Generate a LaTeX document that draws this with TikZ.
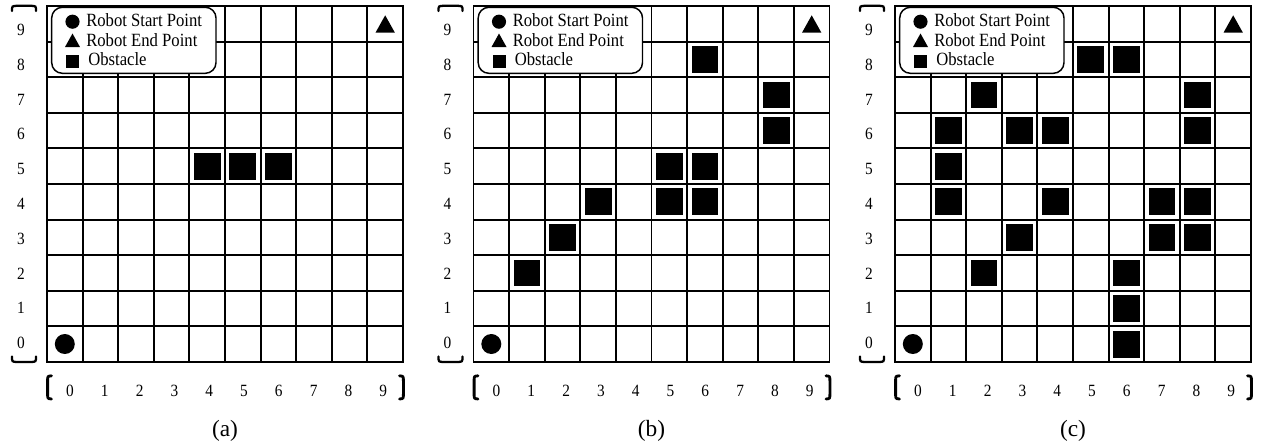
\documentclass[tikz,border=0pt]{standalone}
\usepackage{fontspec}
\setmainfont{Liberation Serif}
\tikzset{
  gridline/.style={line width=1.4pt, line cap=rect},
  obst/.style={fill=black},
  legendbox/.style={draw=black, line width=1.1pt, fill=white, rounded corners=8pt},
  axisnum/.style={inner sep=0pt, font=\fontsize{11.5}{12}\selectfont},
  legtext/.style={inner sep=0pt, anchor=base west, font=\fontsize{12.5}{13}\selectfont},
  captext/.style={inner sep=0pt, font=\fontsize{17.5}{19}\selectfont},
  brace/.style={line width=1.7pt, line cap=round},
  paren/.style={line width=2.1pt, line cap=round}
}
\newcommand\tallbox[1]{\scalebox{1}[1.12]{#1}}
\newcommand\gridpanel[4]{%
  \begin{scope}[shift={(#1,0)}]
    % grid lines
    \foreach \i in {0,...,10} {
      \draw[gridline] (\i*35.6,6) -- (\i*35.6,362);
      \draw[gridline] (0,6+\i*35.6) -- (356,6+\i*35.6);
    }
    % obstacles
    \foreach \c/\r in {#2} {
      \fill[obst] (\c*35.6+4.4,362-\r*35.6-4.4) rectangle (\c*35.6+31.2,362-\r*35.6-31.2);
    }
    % start and end points
    \fill (17.8,344) circle[radius=7.5pt];
    \fill (328.6,32.5) -- (347.8,32.5) -- (338.2,15.3) -- cycle;
    % legend
    \draw[legendbox] (4.7,7.3) rectangle (169,73.3);
    \fill (25.5,21.7) circle[radius=5.3pt];
    \fill (18,47) -- (33,47) -- (25.5,33.5) -- cycle;
    \fill (19,55) rectangle (32,68);
    \node[legtext] (#4s) at (39,26.7) {\tallbox{Robot Start Point}};
    \node[legtext] (#4e) at (39,46.7) {\tallbox{Robot End Point}};
    \node[legtext] (#4o) at (41,65.7) {\tallbox{Obstacle}};
    % axis labels
    \foreach \j in {0,...,9} {
      \node[axisnum] (#4y\j) at (-26,343-\j*34.8) {\tallbox{\j}};
      \node[axisnum] (#4x\j) at (23+\j*34.8,390.5) {\tallbox{\j}};
    }
    % braces
    \draw[brace] (-35,11) .. controls (-35,6) .. (-30,5.8) -- (-16,5.8) .. controls (-11,6) .. (-11,11);
    \draw[brace] (-35,356.5) .. controls (-35,361.8) .. (-30,362) -- (-16,362) .. controls (-11,361.8) .. (-11,356.5);
    \draw[paren] (4.5,375.8) .. controls (0.6,376.2) .. (0.6,381) -- (0.6,394) .. controls (0.6,398.6) .. (4.5,399);
    \draw[paren] (352.5,375.8) .. controls (356.4,376.2) .. (356.4,381) -- (356.4,394) .. controls (356.4,398.6) .. (352.5,399);
    % caption
    \node[captext] (#4cap) at (178,430.5) {#3};
  \end{scope}
}
\begin{document}
\begin{tikzpicture}[x=0.75pt,y=-0.75pt]
  \useasboundingbox (0,0) rectangle (1261,443);
  \gridpanel{47}{4/5,5/5,6/5}{(a)}{a}
  \gridpanel{473.5}{6/8,8/7,8/6,5/5,6/5,3/4,5/4,6/4,2/3,1/2}{(b)}{b}
  \gridpanel{895}{5/8,6/8,2/7,8/7,1/6,3/6,4/6,8/6,1/5,1/4,4/4,7/4,8/4,3/3,7/3,8/3,2/2,6/2,6/1,6/0}{(c)}{c}
\end{tikzpicture}
\end{document}
